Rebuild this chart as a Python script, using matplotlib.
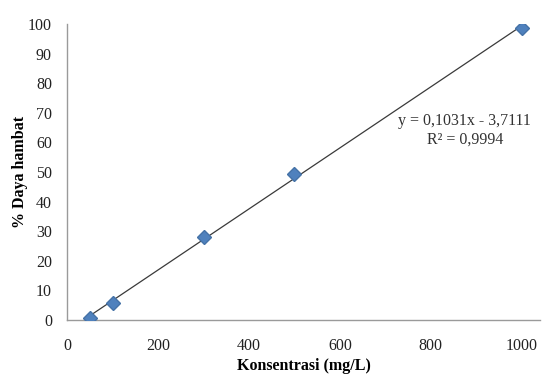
import numpy as np
import matplotlib.pyplot as plt

# data
konsentrasi = [50, 100, 300, 500, 1000]
daya_hambat = [0.7, 5.8, 28.1, 49.2, 98.6]
slope = 0.1031
intercept = -3.7111
r2 = 0.9994

plt.rcParams['font.family'] = ['Liberation Serif', 'DejaVu Serif']

fig = plt.figure(figsize=(5.42, 3.76), dpi=100)
ax = fig.add_axes([0.124, 0.149, 0.872, 0.787])

xs = np.array([min(konsentrasi), max(konsentrasi)])
ax.plot(xs, slope * xs + intercept, color='#3a3a3a', linewidth=0.9, zorder=2)
ax.plot(konsentrasi, daya_hambat, linestyle='none', marker='D', markersize=7,
        color='#4f81bd', markeredgecolor='#4572a7', zorder=3)

ax.set_xlim(0, 1040)
ax.set_ylim(0, 100)
ax.set_xticks([0, 200, 400, 600, 800, 1000])
ax.set_yticks(range(0, 101, 10))
ax.tick_params(axis='x', length=0, labelsize=11.5, colors='#222222', pad=13)
ax.tick_params(axis='y', length=0, labelsize=11.5, colors='#222222', pad=11)

for side in ['top', 'right']:
    ax.spines[side].set_visible(False)
for side in ['left', 'bottom']:
    ax.spines[side].set_color('#9a9a9a')
    ax.spines[side].set_linewidth(1.0)

ax.set_xlabel('Konsentrasi (mg/L)', fontsize=11.5, fontweight='bold', labelpad=3)
ax.set_ylabel('% Daya hambat', fontsize=11.5, fontweight='bold', labelpad=0)

eq = 'y = {:.4f}x - {:.4f}'.format(slope, -intercept).replace('.', ',')
rt = 'R² = {:.4f}'.format(r2).replace('.', ',')
ax.text(875, 64, eq + '\n' + rt, ha='center', va='center', fontsize=11.5,
        color='#333333', linespacing=1.25)

fig.savefig('out.png', dpi=100)
